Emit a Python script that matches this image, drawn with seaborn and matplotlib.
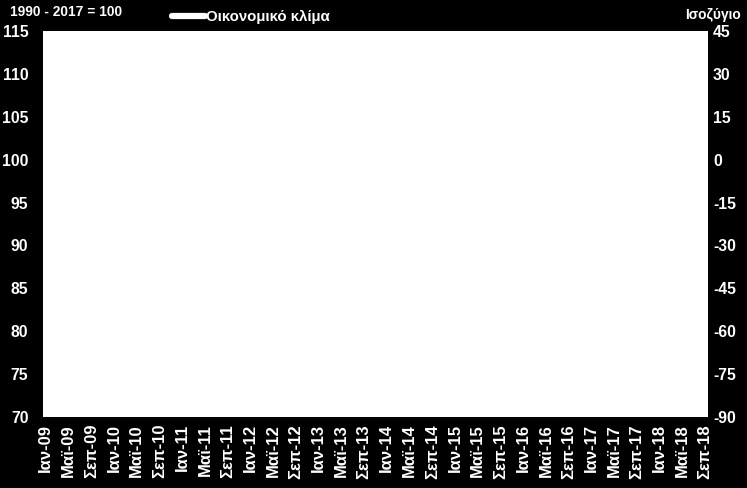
import numpy as np
import pandas as pd
import matplotlib
matplotlib.use("Agg")
import matplotlib.pyplot as plt
import seaborn as sns

# ---- data ----
months_gr = ["Ιαν", "Φεβ", "Μαρ", "Απρ", "Μαϊ", "Ιουν", "Ιουλ", "Αυγ", "Σεπ", "Οκτ", "Νοε", "Δεκ"]
years = list(range(2009, 2019))
climate = [
    79.5, 77.0, 75.5, 76.0, 77.5, 79.0, 80.5, 81.5, 84.0, 83.0, 82.5, 80.0,
    81.5, 80.0, 76.0, 74.5, 73.0, 72.5, 73.0, 74.0, 72.0, 72.5, 74.0, 74.5,
    75.5, 76.5, 75.0, 74.0, 73.0, 72.5, 74.0, 75.0, 72.0, 72.0, 73.5, 74.0,
    75.0, 76.5, 77.0, 78.5, 76.5, 79.0, 80.5, 79.5, 80.0, 82.0, 83.0, 84.5,
    87.0, 89.5, 88.0, 90.0, 89.0, 90.5, 91.0, 92.0, 93.0, 92.5, 91.5, 92.5,
    95.0, 97.5, 97.0, 98.5, 99.5, 99.0, 100.5, 100.0, 101.5, 100.5, 101.0, 99.0,
    98.5, 97.5, 99.0, 97.0, 95.0, 92.0, 84.5, 87.0, 91.0, 93.5, 93.0, 94.0,
    91.5, 92.5, 93.5, 92.0, 93.5, 92.0, 93.0, 94.5, 93.0, 93.5, 94.0, 95.5,
    95.5, 94.0, 93.5, 94.5, 95.5, 96.5, 98.0, 97.5, 97.5, 100.0, 99.0, 100.5,
    102.0, 103.5, 101.0, 101.5, 102.0, 103.0, 102.5, 103.0, 101.5,
]
labels_all = [f"{m}-{str(y)[2:]}" for y in years for m in months_gr][:len(climate)]
left_ticks = list(range(70, 116, 5))
right_ticks = list(range(-90, 46, 15))
series_name = "Οικονομικό κλίμα"

df = pd.DataFrame({"idx": np.arange(len(climate)), "value": climate})

# ---- style ----
sns.set_theme(style="white")
plt.rcParams["font.family"] = ["Liberation Sans", "DejaVu Sans"]
plt.rcParams["font.weight"] = "bold"
FS_Y = 11.3
FS_X = 12
FS_T = 9.9
FS_L = 10.8

fig = plt.figure(figsize=(7.47, 4.88), dpi=100, facecolor="black")
ax = fig.add_axes([43/747, 1-417/488, (708-43)/747, (417-31)/488])
ax.set_facecolor("white")

sns.lineplot(data=df, x="idx", y="value", ax=ax, color="white", linewidth=2.5,
             label=series_name, legend=False)

ax.set_xlim(-0.5, len(climate) - 0.5)
ax.set_ylim(70, 115)
ax.set_yticks(left_ticks)
ax.set_yticklabels([str(t) for t in left_ticks], fontsize=FS_Y, fontweight="bold", color="white")
tick_pos = list(range(0, len(climate), 4))
ax.set_xticks(tick_pos)
ax.set_xticklabels([labels_all[i] for i in tick_pos], rotation=90, fontsize=FS_X,
                   fontweight="bold", color="white")
ax.tick_params(axis="y", length=0, pad=10.5)
ax.tick_params(axis="x", length=0, pad=5)
ax.set_xlabel("")
ax.set_ylabel("")
for s in ax.spines.values():
    s.set_visible(False)

ax2 = ax.twinx()
ax2.set_ylim(-90, 45)
ax2.set_yticks(right_ticks)
ax2.set_yticklabels([str(t) for t in right_ticks], fontsize=FS_Y, fontweight="bold", color="white")
ax2.tick_params(axis="y", length=0, pad=3.6)
for s in ax2.spines.values():
    s.set_visible(False)

fig.text(10/747, 1-12/488, "1990 - 2017 = 100", color="white", fontsize=FS_T,
         fontweight="bold", ha="left", va="center")
fig.text(741/747, 1-15/488, "Ισοζύγιο", color="white", fontsize=FS_T,
         fontweight="bold", ha="right", va="center")

handles, labs = ax.get_legend_handles_labels()
leg = fig.legend(handles, labs, loc="center left", bbox_to_anchor=(172/747, 1-17/488),
                 frameon=False, fontsize=FS_L, handlelength=2.2, handletextpad=0.1,
                 borderaxespad=0, borderpad=0)
for t in leg.get_texts():
    t.set_color("white")
    t.set_fontweight("bold")
for h in leg.legend_handles:
    h.set_linewidth(4.5)
    h.set_solid_capstyle("round")

fig.savefig("out.png", dpi=100, facecolor="black")
